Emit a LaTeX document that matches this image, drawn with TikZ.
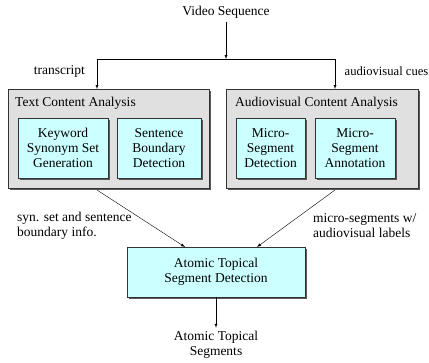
\documentclass[tikz,border=0pt]{standalone}
\usepackage{fontspec}
\setmainfont{Liberation Serif}
\usetikzlibrary{positioning,arrows,shadows,calc}
\definecolor{boxcyan}{HTML}{CCFFFF}
\definecolor{boxgray}{HTML}{E0E0E0}
\tikzstyle{group}=[draw=black!80,fill=boxgray,rectangle,anchor=north west,inner sep=0pt,
  drop shadow={shadow xshift=2pt,shadow yshift=-2pt,fill=black!65,opacity=1}]
\tikzstyle{module}=[draw=black!80,fill=boxcyan,rectangle,inner sep=0pt,align=center,
  drop shadow={shadow xshift=2pt,shadow yshift=-2pt,fill=black!65,opacity=1}]
\tikzstyle{caption}=[align=left,inner sep=0pt,anchor=west]
\tikzstyle{flow}=[draw=black,-latex]

\begin{document}
\begin{tikzpicture}[x=1pt,y=-1pt,font=\fontsize{13.5}{15}\selectfont]
  \useasboundingbox (0,0) rectangle (429,362);

  % inputs and outputs
  \node (video) at (226,12) {Video Sequence};
  \node[align=center] (segments) at (216,345) {Atomic Topical\\Segments};

  % analysis groups
  \node[group,minimum width=201pt,minimum height=99pt] (text) at (8,89) {};
  \node[group,minimum width=192pt,minimum height=99pt] (av) at (226,89) {};
  \node[anchor=west,inner sep=0pt] (texttitle) at (15,103) {Text Content Analysis};
  \node[anchor=west,inner sep=0pt] (avtitle) at (235,103) {Audiovisual Content Analysis};

  % modules inside the groups
  \foreach \pos / \boxw / \name / \txt in
      {{(63,148)/90/kw/{Keyword\\Synonym Set\\Generation}},
       {(159,148)/84/sb/{Sentence\\Boundary\\Detection}},
       {(270.5,148)/69/msd/{Micro-\\Segment\\Detection}},
       {(355,148)/80/msa/{Micro-\\Segment\\Annotation}}}
    \node[module,minimum width=\boxw pt,minimum height=60pt] (\name) at \pos {\txt};

  \node[module,minimum width=178pt,minimum height=50pt] (atomic) at (216,272)
    {Atomic Topical\\Segment Detection};

  % branching of the input
  \coordinate (split) at (226,59);
  \coordinate (tl) at (97,59);
  \coordinate (tr) at (335,59);
  \coordinate (textout) at (97,190);
  \coordinate (avout) at (335,190);
  \coordinate (atomicin l) at (185,247);
  \coordinate (atomicin r) at (257,247);
  \path[flow] (video) -- (split);
  \draw (tl) -- (tr);
  \path[flow] (tl) -- (tl |- text.north);
  \path[flow] (tr) -- (tr |- av.north);
  \node[anchor=east,inner sep=0pt] (transcript) at (85,71) {transcript};
  \node[anchor=east,inner sep=0pt,font=\fontsize{12.6}{15}\selectfont] (cues) at (428.5,71) {audiovisual cues};

  % merging into detection
  \path[flow] (textout) -- (atomicin l);
  \path[flow] (avout) -- (atomicin r);
  \node[caption] (synlabel) at (17,226) {syn. set and sentence\\boundary info.};
  \node[caption] (microlabel) at (313,226) {micro-segments w/\\audiovisual labels};

  \path[flow] (atomic.south -| segments) -- (segments);
\end{tikzpicture}
\end{document}
